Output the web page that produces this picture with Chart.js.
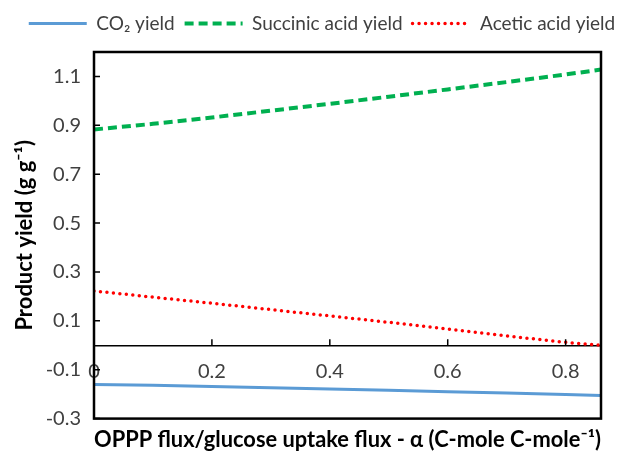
<!DOCTYPE html>
<html><head><meta charset="utf-8">
<script src="https://cdn.jsdelivr.net/npm/chart.js@4"></script>
<style>html,body{margin:0;padding:0;background:#fff;overflow:hidden}</style>
</head><body>
<canvas id="c" width="644" height="455"></canvas>
<script>
const alpha         = [0, 0.1, 0.2, 0.3, 0.4, 0.5, 0.6, 0.7, 0.8, 0.86];
const co2Yield      = [-0.160, -0.164, -0.169, -0.174, -0.179, -0.184, -0.190, -0.195, -0.201, -0.205];
const succinicYield = [0.883, 0.906, 0.932, 0.960, 0.988, 1.017, 1.047, 1.077, 1.108, 1.128];
const aceticYield   = [0.222, 0.197, 0.172, 0.146, 0.120, 0.094, 0.066, 0.038, 0.012, 0.000];
const seriesNames   = ['CO\u2082 yield', 'Succinic acid yield', 'Acetic acid yield'];
const xTicks = [0, 0.2, 0.4, 0.6, 0.8];
const yTicks = [-0.3, -0.1, 0.1, 0.3, 0.5, 0.7, 0.9, 1.1];
const xTitle = 'OPPP flux/glucose uptake flux - \u03b1 (C-mole C-mole\u207b\u00b9)';
const yTitle = 'Product yield (g g\u207b\u00b9)';

const pts = ys => alpha.map((x, i) => ({x, y: ys[i]}));
const FONT = 'Lato, "Open Sans", sans-serif';

const frameAndTicks = {
  id: 'frameAndTicks',
  afterDatasetsDraw(chart) {
    const {ctx, chartArea: a, scales: {x, y}} = chart;
    ctx.save();
    ctx.strokeStyle = '#000';
    ctx.lineWidth = 1.5;
    const y0 = y.getPixelForValue(0);
    ctx.beginPath();
    xTicks.forEach(v => { const px = x.getPixelForValue(v); ctx.moveTo(px, y0); ctx.lineTo(px, y0 - 6); });
    yTicks.forEach(v => { const py = y.getPixelForValue(v); ctx.moveTo(a.left, py); ctx.lineTo(a.left + 6, py); });
    ctx.stroke();
    ctx.lineWidth = 2.5;
    ctx.strokeRect(a.left, a.top, a.right - a.left, a.bottom - a.top);
    ctx.restore();
  }
};

const legendGap = {
  id: 'legendGap',
  beforeLayout(chart) {
    const lg = chart.legend;
    if (lg && !lg._gapPatched) {
      const orig = lg.fit;
      lg.fit = function () { orig.call(this); this.height += 9; };
      lg._gapPatched = true;
    }
  }
};

const dsStyles = [
  {borderColor: '#5B9BD5', borderWidth: 3, borderDash: [], borderCapStyle: 'butt'},
  {borderColor: '#00B050', borderWidth: 4, borderDash: [9, 5], borderCapStyle: 'butt'},
  {borderColor: '#FF0000', borderWidth: 3.5, borderDash: [0, 6.5], borderCapStyle: 'round'}
];

new Chart(document.getElementById('c'), {
  type: 'line',
  data: {
    datasets: [co2Yield, succinicYield, aceticYield].map((ys, i) => Object.assign({
      label: seriesNames[i], data: pts(ys), pointRadius: 0, pointStyle: 'line', xAxisID: 'x', yAxisID: 'y'
    }, dsStyles[i]))
  },
  options: {
    responsive: false,
    animation: false,
    devicePixelRatio: 1,
    layout: {padding: {top: 4, right: 0, left: 0, bottom: 0}},
    plugins: {
      legend: {
        position: 'top',
        labels: {
          usePointStyle: true, pointStyleWidth: 58, padding: 10, color: '#404040',
          font: {family: FONT, size: 19},
          generateLabels: chart => chart.data.datasets.map((ds, i) => ({
            text: ds.label, datasetIndex: i, pointStyle: 'line',
            strokeStyle: ds.borderColor, fillStyle: ds.borderColor,
            lineWidth: ds.borderWidth, lineDash: ds.borderDash, lineCap: ds.borderCapStyle,
            fontColor: '#404040', hidden: false
          }))
        }
      },
      title: {display: false},
      tooltip: {enabled: false}
    },
    scales: {
      x: {
        type: 'linear', min: 0, max: 0.86, position: {y: 0},
        afterBuildTicks: s => { s.ticks = xTicks.map(v => ({value: v})); },
        ticks: {color: '#404040', font: {family: FONT, size: 20}, padding: 14, maxRotation: 0, callback: v => String(v)},
        grid: {display: false, drawTicks: false},
        border: {display: true, color: '#000', width: 1.5}
      },
      xTitleAxis: {
        type: 'linear', position: 'bottom', min: 0, max: 1,
        ticks: {display: false}, grid: {display: false, drawTicks: false}, border: {display: false},
        title: {display: true, text: xTitle, color: '#000', font: {family: FONT, size: 22, weight: 'bold'}, padding: {top: 8, bottom: 2}}
      },
      y: {
        type: 'linear', min: -0.3, max: 1.2,
        afterBuildTicks: s => { s.ticks = yTicks.map(v => ({value: v})); },
        afterFit: s => { s.width = 94; },
        ticks: {color: '#404040', font: {family: FONT, size: 20}, padding: 13, callback: v => v.toFixed(1)},
        grid: {display: false, drawTicks: false},
        border: {display: false},
        title: {display: true, text: yTitle, color: '#000', font: {family: FONT, size: 22, weight: 'bold'}, padding: {top: 12, bottom: 0}}
      },
      yRightSpace: {
        type: 'linear', position: 'right', min: 0, max: 1,
        afterFit: s => { s.width = 43; },
        ticks: {display: false}, grid: {display: false, drawTicks: false}, border: {display: false}
      }
    }
  },
  plugins: [frameAndTicks, legendGap]
});
</script>
</body></html>
